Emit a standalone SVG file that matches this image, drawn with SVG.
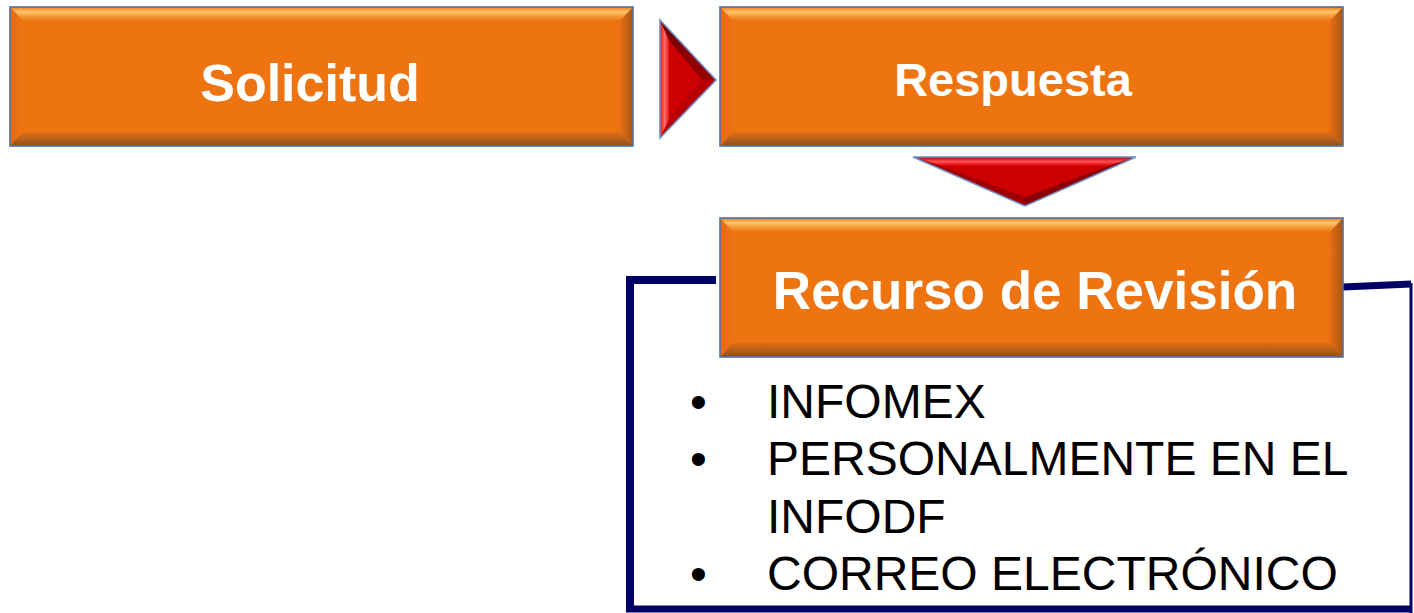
<svg xmlns="http://www.w3.org/2000/svg" width="1414" height="613" viewBox="0 0 1414 613">
  <defs>
    <linearGradient id="gTop" x1="0" y1="0" x2="0" y2="1">
      <stop offset="0" stop-color="#F07A18"/>
      <stop offset="0.35" stop-color="#FFC56A"/>
      <stop offset="0.6" stop-color="#F8A040"/>
      <stop offset="1" stop-color="#EE7311"/>
    </linearGradient>
    <linearGradient id="gBot" x1="0" y1="0" x2="0" y2="1">
      <stop offset="0" stop-color="#E06C12"/>
      <stop offset="0.6" stop-color="#B05E1C"/>
      <stop offset="1" stop-color="#8E4E18"/>
    </linearGradient>
    <linearGradient id="gLeft" x1="0" y1="0" x2="1" y2="0">
      <stop offset="0" stop-color="#E46A10"/>
      <stop offset="1" stop-color="#EE7311"/>
    </linearGradient>
    <linearGradient id="gRight" x1="0" y1="0" x2="1" y2="0">
      <stop offset="0" stop-color="#E86E12"/>
      <stop offset="1" stop-color="#A85614"/>
    </linearGradient>
    <linearGradient id="rLight" x1="0" y1="0" x2="1" y2="0">
      <stop offset="0" stop-color="#E01010"/>
      <stop offset="0.5" stop-color="#FF6A6A"/>
      <stop offset="1" stop-color="#E81818"/>
    </linearGradient>
    <linearGradient id="rDark" x1="0" y1="0" x2="1" y2="1">
      <stop offset="0" stop-color="#6E0000"/>
      <stop offset="1" stop-color="#A00000"/>
    </linearGradient>
    <linearGradient id="rTop" x1="0" y1="0" x2="0" y2="1">
      <stop offset="0" stop-color="#B00000"/>
      <stop offset="0.5" stop-color="#FF5050"/>
      <stop offset="1" stop-color="#D80000"/>
    </linearGradient>
    <style>
      .face{fill:#EE7311;}
      .edge{fill:none;stroke:#4E72A8;stroke-width:1.6;}
      .lbl{font-family:"Liberation Sans",Arial,sans-serif;font-weight:bold;fill:#FFFFFF;text-anchor:middle;}
      .item{font-family:"Liberation Sans",Arial,sans-serif;font-size:48px;fill:#000000;}
      .frame{stroke:#000066;fill:none;}
      .tri-edge{fill:none;stroke:#6F90C4;stroke-width:1.6;stroke-linejoin:miter;}
    </style>
  </defs>

  <!-- frame around Recurso de Revision details -->
  <g id="frame">
    <polyline class="frame" points="716,280 630,280 630,609" stroke-width="8"/>
    <line class="frame" x1="626" y1="609" x2="1411" y2="609" stroke-width="7"/>
    <line class="frame" x1="1343" y1="287" x2="1411" y2="284" stroke-width="7"/>
    <line class="frame" x1="1411" y1="283" x2="1411" y2="613" stroke-width="3"/>
  </g>

  <g id="node-solicitud">
    <rect class="face" x="10" y="7" width="623" height="139"/>
    <polygon fill="url(#gTop)" points="10,7 633,7 620,21 23,21"/>
    <polygon fill="url(#gBot)" points="10,146 633,146 620,132 23,132"/>
    <polygon fill="url(#gLeft)" points="10,7 23,21 23,132 10,146"/>
    <polygon fill="url(#gRight)" points="633,7 620,21 620,132 633,146"/>
    <rect class="edge" x="10" y="7" width="623" height="139"/>
    <text class="lbl" x="310" y="101" font-size="52">Solicitud</text>
  </g>

  <g id="node-respuesta">
    <rect class="face" x="720" y="7" width="623" height="139"/>
    <polygon fill="url(#gTop)" points="720,7 1343,7 1330,21 733,21"/>
    <polygon fill="url(#gBot)" points="720,146 1343,146 1330,132 733,132"/>
    <polygon fill="url(#gLeft)" points="720,7 733,21 733,132 720,146"/>
    <polygon fill="url(#gRight)" points="1343,7 1330,21 1330,132 1343,146"/>
    <rect class="edge" x="720" y="7" width="623" height="139"/>
    <text class="lbl" x="1013" y="96" font-size="47">Respuesta</text>
  </g>

  <g id="node-recurso">
    <rect class="face" x="720" y="218" width="623" height="139"/>
    <polygon fill="url(#gTop)" points="720,218 1343,218 1330,232 733,232"/>
    <polygon fill="url(#gBot)" points="720,357 1343,357 1330,343 733,343"/>
    <polygon fill="url(#gLeft)" points="720,218 733,232 733,343 720,357"/>
    <polygon fill="url(#gRight)" points="1343,218 1330,232 1330,343 1343,357"/>
    <rect class="edge" x="720" y="218" width="623" height="139"/>
    <text class="lbl" x="1035" y="309" font-size="53">Recurso de Revisión</text>
  </g>

  <g id="connectors">
    <g id="arrow-solicitud-respuesta">
      <polygon fill="#CC0000" points="660,20 660,138 716,80"/>
      <polygon fill="url(#rLight)" points="660,20 669,40 669,120 660,138"/>
      <polygon fill="url(#rDark)" points="660,20 716,80 702,80 669,40"/>
      <polygon fill="#B80000" points="660,138 669,120 702,80 716,80"/>
      <polygon class="tri-edge" points="660,20 660,138 716,80"/>
    </g>
    <g id="arrow-respuesta-recurso">
      <polygon fill="#CC0000" points="913,157 1136,157 1025,206"/>
      <polygon fill="url(#rTop)" points="913,157 1136,157 1108,166 941,166"/>
      <polygon fill="#A00000" points="913,157 941,166 1025,197 1025,206"/>
      <polygon fill="#8A0000" points="1136,157 1108,166 1025,197 1025,206"/>
      <polygon class="tri-edge" points="913,157 1136,157 1025,206"/>
    </g>
  </g>

  <g id="list-recurso">
    <text class="item" x="690" y="418">•</text>
    <text class="item" x="767" y="418">INFOMEX</text>
    <text class="item" x="690" y="475">•</text>
    <text class="item" x="767" y="475">PERSONALMENTE EN EL</text>
    <text class="item" x="767" y="533">INFODF</text>
    <text class="item" x="690" y="590">•</text>
    <text class="item" x="767" y="590">CORREO ELECTRÓNICO</text>
  </g>
</svg>
